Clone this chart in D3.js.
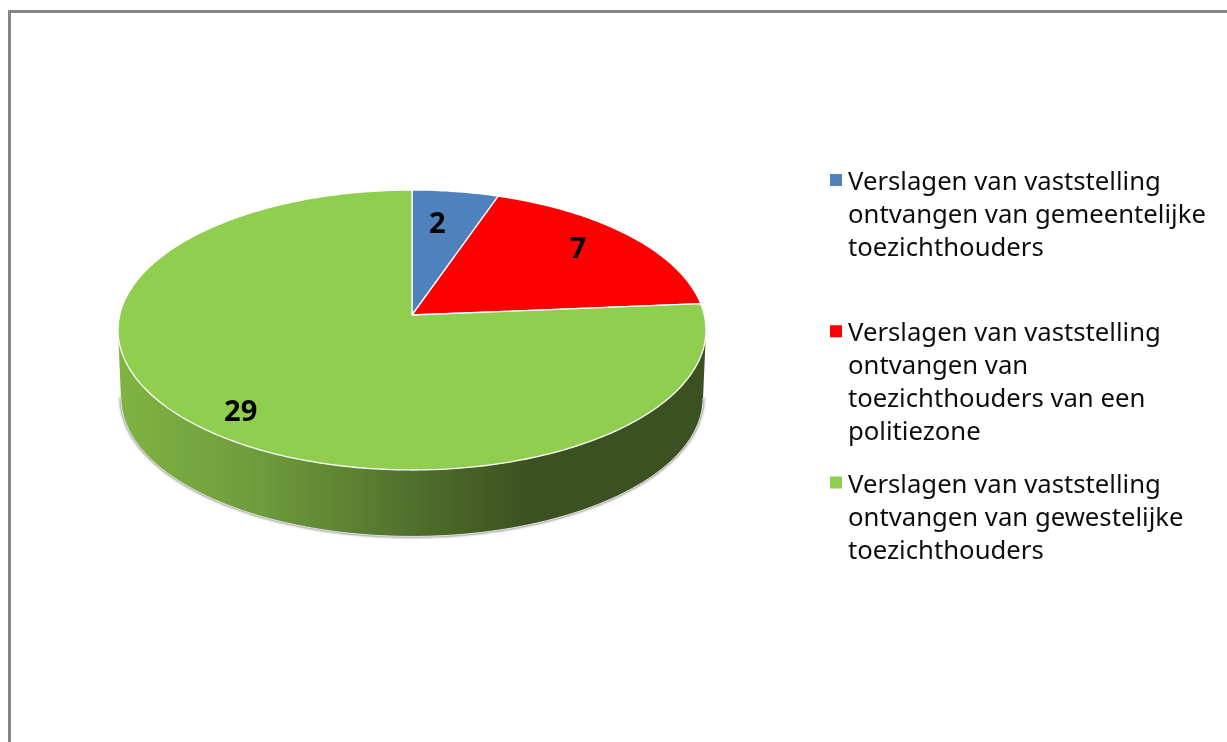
<!DOCTYPE html>
<html>
<head>
<meta charset="utf-8">
<script src="https://cdn.jsdelivr.net/npm/d3@7"></script>
<style>
    html, body { margin: 0; padding: 0; background: #fff; overflow: hidden; }
</style>
</head>
<body>
<div id="mainContainer"></div>
<script>
'use strict';

var categories = ['gemeentelijk', 'politiezone', 'gewestelijk'];
var values = [2, 7, 29];
var colors = ['#4f81bd', '#ff0000', '#90ce50'];
var legendLines = [
    ['Verslagen van vaststelling', 'ontvangen van gemeentelijke', 'toezichthouders'],
    ['Verslagen van vaststelling', 'ontvangen van', 'toezichthouders van een', 'politiezone'],
    ['Verslagen van vaststelling', 'ontvangen van gewestelijke', 'toezichthouders']
];

var svgWidth = 1227,
    svgHeight = 742,
    cx = 412,
    cy = 315,
    radiusX = 292.3,
    radiusY = 138.4,
    tilt = 0.107,
    depth = 67;

// where each value label sits: fraction of the radius, then a small nudge
var labelRadius = [0.7, 0.77, 0.85],
    labelNudge = [[-6, -3], [-3, -5], [9, 3]];

var svg = d3.select('#mainContainer')
    .append('svg')
    .attr('width', svgWidth)
    .attr('height', svgHeight);

var defs = svg.append('defs');

defs.append('filter').attr('id', 'soft')
    .attr('x', '-5%').attr('y', '-5%').attr('width', '110%').attr('height', '110%')
    .append('feGaussianBlur').attr('stdDeviation', 0.6);

defs.append('filter').attr('id', 'shadow')
    .attr('x', '-5%').attr('y', '-5%').attr('width', '110%').attr('height', '110%')
    .append('feGaussianBlur').attr('stdDeviation', 1.1);

var wallGradient = defs.append('linearGradient')
    .attr('id', 'wall')
    .attr('gradientUnits', 'userSpaceOnUse')
    .attr('x1', 118).attr('x2', 706).attr('y1', 0).attr('y2', 0);

[['0%', '#80b343'], ['25%', '#6d9a3b'], ['50%', '#50702c'], ['70%', '#3b5120'], ['100%', '#3b5120']]
    .forEach(function (s) {
        wallGradient.append('stop').attr('offset', s[0]).attr('stop-color', s[1]);
    });

// frame
svg.append('rect')
    .attr('x', 9.5).attr('y', 11.5)
    .attr('width', svgWidth + 20).attr('height', svgHeight + 20)
    .attr('fill', '#fff')
    .attr('stroke', '#868686')
    .attr('stroke-width', 3);

// disc is tilted, so the far half looks shorter than the near half
function project(angle, r, offsetY, scale) {
    var u = r * Math.sin(angle),
        v = r * Math.cos(angle),
        w = 1 + tilt * v;
    return [
        cx + scale * radiusX * u / w,
        cy + offsetY - scale * radiusY * v / w
    ];
}

function arcPoints(start, end, offsetY, scale) {
    var n = Math.max(2, Math.ceil((end - start) * 60));
    return d3.range(n + 1).map(function (i) {
        return project(start + (end - start) * i / n, 1, offsetY, scale);
    });
}

var line = d3.line();
var pie = d3.pie().sort(null)(values);
var color = d3.scaleOrdinal().domain(categories).range(colors);

var chart = svg.append('g').attr('filter', 'url(#soft)');

var edgeAngle = Math.acos(-tilt);
var lowerArc = arcPoints(edgeAngle, 2 * Math.PI - edgeAngle, depth + 1, 0.99);
var upperArc = arcPoints(edgeAngle, 2 * Math.PI - edgeAngle, 0, 1);

//shadow under the wall
chart.append('path')
    .attr('d', line(lowerArc))
    .attr('fill', 'none')
    .attr('stroke', '#8c8c8c')
    .attr('stroke-width', 2.5)
    .attr('filter', 'url(#shadow)');

//wall
chart.append('path')
    .attr('d', line(upperArc.concat(lowerArc.slice().reverse())) + 'Z')
    .attr('fill', 'url(#wall)');

//light edge on the bottom of the wall
chart.append('path')
    .attr('d', line(lowerArc))
    .attr('fill', 'none')
    .attr('stroke', '#e4e4e4')
    .attr('stroke-width', 1);

//top slices
chart.selectAll('path.slice')
    .data(pie)
    .enter()
    .append('path')
    .attr('class', 'slice')
    .attr('d', function (d) {
        return line([[cx, cy]].concat(arcPoints(d.startAngle, d.endAngle, 0, 1))) + 'Z';
    })
    .attr('fill', function (d, i) { return color(categories[i]); })
    .attr('stroke', '#fff')
    .attr('stroke-width', 1.3)
    .attr('stroke-linejoin', 'round');

//value labels
chart.selectAll('text.value')
    .data(pie)
    .enter()
    .append('text')
    .attr('class', 'value')
    .attr('transform', function (d, i) {
        var p = project((d.startAngle + d.endAngle) / 2, labelRadius[i], 0, 1);
        return 'translate(' + (p[0] + labelNudge[i][0]) + ',' + (p[1] + labelNudge[i][1]) + ')';
    })
    .attr('dy', '0.36em')
    .attr('text-anchor', 'middle')
    .attr('font-family', '"Noto Sans", sans-serif')
    .attr('font-weight', 'bold')
    .attr('font-size', 29)
    .attr('fill', '#000')
    .text(function (d) { return d.value; });

//legend
var legendY = d3.scalePoint().domain(categories).range([190, 492.5]);

var legend = svg.append('g')
    .attr('filter', 'url(#soft)')
    .selectAll('g')
    .data(categories)
    .enter()
    .append('g')
    .attr('transform', function (d) { return 'translate(848,' + legendY(d) + ')'; });

legend.append('rect')
    .attr('x', -18).attr('y', -16)
    .attr('width', 12).attr('height', 12)
    .attr('fill', function (d) { return color(d); });

legend.each(function (d, i) {
    d3.select(this).selectAll('text')
        .data(legendLines[i])
        .enter()
        .append('text')
        .attr('y', function (t, j) { return j * 33; })
        .attr('font-family', '"Noto Sans", sans-serif')
        .attr('font-size', 25.7)
        .attr('fill', '#111')
        .text(function (t) { return t; });
});
</script>
</body>
</html>
